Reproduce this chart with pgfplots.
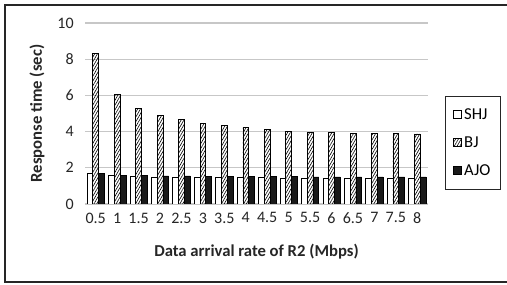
\documentclass[border=0pt]{standalone}
\usepackage{pgfplots}
\pgfplotsset{compat=1.18}
\usepackage{fontspec}
\setmainfont{Carlito}
\usetikzlibrary{patterns.meta}
\begin{document}
\begin{tikzpicture}
\useasboundingbox (0,0) rectangle (380.25pt,213.75pt);
\fill[white] (0,0) rectangle (380.25pt,213.75pt);
\draw[line width=1pt, black!85] (382pt,210pt) -- (3.75pt,210pt) -- (3.75pt,2.25pt) -- (382pt,2.25pt);
\begin{axis}[
  at={(63.75pt,60.75pt)}, anchor=south west,
  scale only axis, width=257.25pt, height=135.75pt,
  xmin=0.25, xmax=8.25, ymin=0, ymax=10,
  ytick={0,2,4,6,8,10},
  xtick={0.5,1,1.5,2,2.5,3,3.5,4,4.5,5,5.5,6,6.5,7,7.5,8},
  xticklabels={0.5,1,1.5,2,2.5,3,3.5,4,4.5,5,5.5,6,6.5,7,7.5,8},
  /pgf/number format/assume math mode=true,
  axis line style={draw=none},
  major tick length=0pt,
  ymajorgrids, major grid style={black!22, line width=0.9pt},
  tick label style={font=\fontsize{12}{14}\selectfont, text=black!85},
  yticklabel style={xshift=-5pt},
  xticklabel style={yshift=-3pt},
  xlabel={Data arrival rate of R2 (Mbps)},
  ylabel={Response time (sec)},
  label style={font=\bfseries\fontsize{12.5}{14}\selectfont, text=black!85},
  xlabel style={at={(axis description cs:0.5,-0.265)}, anchor=center},
  ylabel style={at={(axis description cs:-0.14,0.5)}, anchor=center},
  ybar, bar width=0.135,
  legend style={at={(1.0496,0.597)}, anchor=north west, draw=black!85, line width=0.8pt,
    font=\fontsize{12.5}{14}\selectfont, row sep=7.5pt, inner xsep=5.5pt, inner ysep=7pt,
    /tikz/every even column/.append style={column sep=1pt}},
  legend cell align=left,
  legend image code/.code={\draw[#1, line width=0.5pt] (0pt,-2.8pt) rectangle (6pt,3.2pt);},
]
\addplot[bar shift=-0.135, draw=black, fill=white, line width=0.5pt] coordinates {
(0.5,1.68) (1,1.6) (1.5,1.55) (2,1.5) (2.5,1.5) (3,1.48) (3.5,1.47) (4,1.46)
(4.5,1.45) (5,1.44) (5.5,1.44) (6,1.43) (6.5,1.43) (7,1.42) (7.5,1.42) (8,1.42)};
\addplot[bar shift=0, draw=black, pattern={Lines[angle=60, distance=1.8pt, line width=0.45pt]}, line width=0.5pt] coordinates {
(0.5,8.3) (1,6.05) (1.5,5.27) (2,4.9) (2.5,4.65) (3,4.47) (3.5,4.35) (4,4.22)
(4.5,4.1) (5,4.02) (5.5,3.97) (6,3.95) (6.5,3.92) (7,3.9) (7.5,3.88) (8,3.87)};
\addplot[bar shift=0.135, draw=black, fill=black!90, line width=0.5pt] coordinates {
(0.5,1.7) (1,1.6) (1.5,1.57) (2,1.55) (2.5,1.55) (3,1.53) (3.5,1.52) (4,1.52)
(4.5,1.52) (5,1.51) (5.5,1.5) (6,1.5) (6.5,1.5) (7,1.5) (7.5,1.5) (8,1.5)};
\legend{SHJ,BJ,AJO}
\end{axis}
\end{tikzpicture}
\end{document}
